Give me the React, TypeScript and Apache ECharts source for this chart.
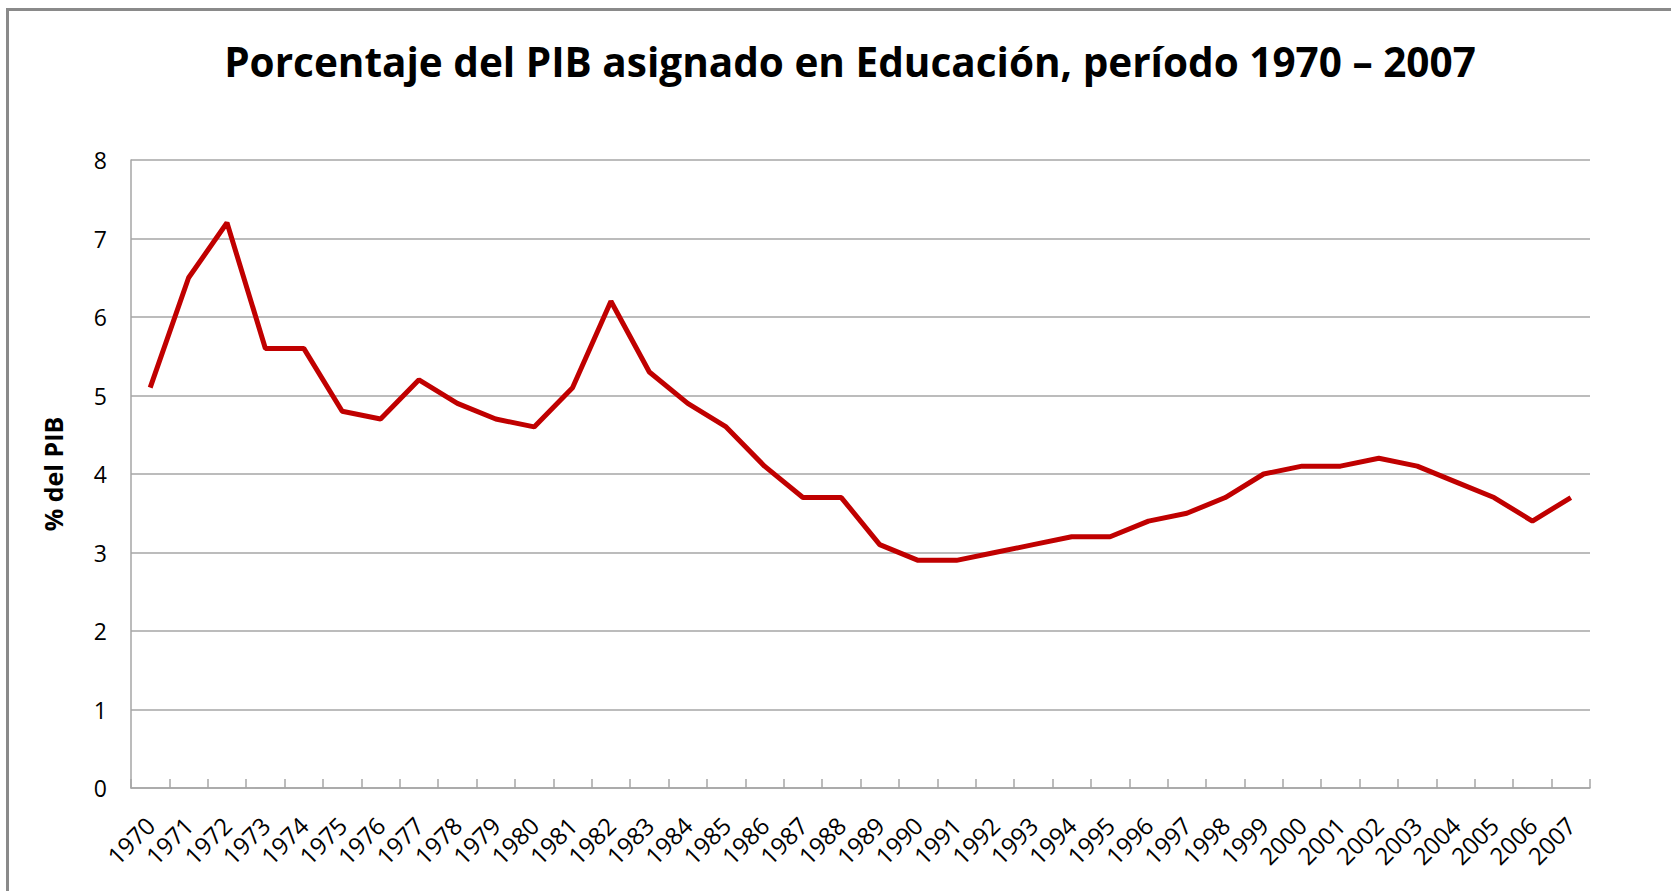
import React, { useEffect, useRef } from "react";
import * as echarts from "echarts";

const years = [
  "1970", "1971", "1972", "1973", "1974", "1975", "1976", "1977", "1978", "1979",
  "1980", "1981", "1982", "1983", "1984", "1985", "1986", "1987", "1988", "1989",
  "1990", "1991", "1992", "1993", "1994", "1995", "1996", "1997", "1998", "1999",
  "2000", "2001", "2002", "2003", "2004", "2005", "2006", "2007",
];
const pibEducacion = [
  5.1, 6.5, 7.2, 5.6, 5.6, 4.8, 4.7, 5.2, 4.9, 4.7,
  4.6, 5.1, 6.2, 5.3, 4.9, 4.6, 4.1, 3.7, 3.7, 3.1,
  2.9, 2.9, 3.0, 3.1, 3.2, 3.2, 3.4, 3.5, 3.7, 4.0,
  4.1, 4.1, 4.2, 4.1, 3.9, 3.7, 3.4, 3.7,
];
const titleText = "Porcentaje del PIB asignado en Educación, período 1970 – 2007";
const yAxisName = "% del PIB";

export default function App() {
  const ref = useRef<HTMLDivElement>(null);
  useEffect(() => {
    if (!ref.current) return;
    const chart = echarts.init(ref.current, undefined, { renderer: "svg" });
    const font = "'Open Sans', 'Noto Sans', sans-serif";
    chart.setOption({
      animation: false,
      backgroundColor: "#ffffff",
      title: {
        text: titleText,
        left: 845,
        textAlign: "center",
        top: 36,
        textStyle: { fontFamily: font, fontWeight: "bold", fontSize: 40.5, color: "#000" },
      },
      graphic: [
        {
          type: "rect",
          shape: { x: 7.5, y: 9.5, width: 1720, height: 920 },
          style: { fill: "none", stroke: "#8a8a8a", lineWidth: 3 },
          silent: true,
        },
      ],
      grid: { left: 131, right: 81, top: 160, bottom: 103 },
      xAxis: {
        type: "category",
        data: years,
        boundaryGap: true,
        axisLine: { lineStyle: { color: "#a6a6a6", width: 1.5 } },
        axisTick: { show: true, inside: true, length: 9, alignWithLabel: false, lineStyle: { color: "#a6a6a6", width: 1.5 } },
        axisLabel: {
          rotate: 45,
          interval: 0,
          margin: 33,
          fontFamily: font,
          fontSize: 24,
          color: "#000",
        },
      },
      yAxis: {
        type: "value",
        min: 0,
        max: 8,
        interval: 1,
        name: yAxisName,
        nameLocation: "middle",
        nameRotate: 90,
        nameGap: 66,
        nameTextStyle: { fontFamily: font, fontWeight: "bold", fontSize: 25, color: "#000" },
        axisLine: { show: true, lineStyle: { color: "#a6a6a6", width: 1.5 } },
        axisTick: { show: false },
        splitLine: { lineStyle: { color: "#a6a6a6", width: 1.5 } },
        axisLabel: { margin: 24, fontFamily: font, fontSize: 23, color: "#000" },
      },
      series: [
        {
          type: "line",
          data: pibEducacion,
          symbol: "none",
          lineStyle: { color: "#c00000", width: 5 },
        },
      ],
    });
    return () => chart.dispose();
  }, []);
  return (
    <div
      ref={ref}
      style={{ position: "fixed", left: 0, top: 0, width: 1671, height: 891 }}
    />
  );
}
